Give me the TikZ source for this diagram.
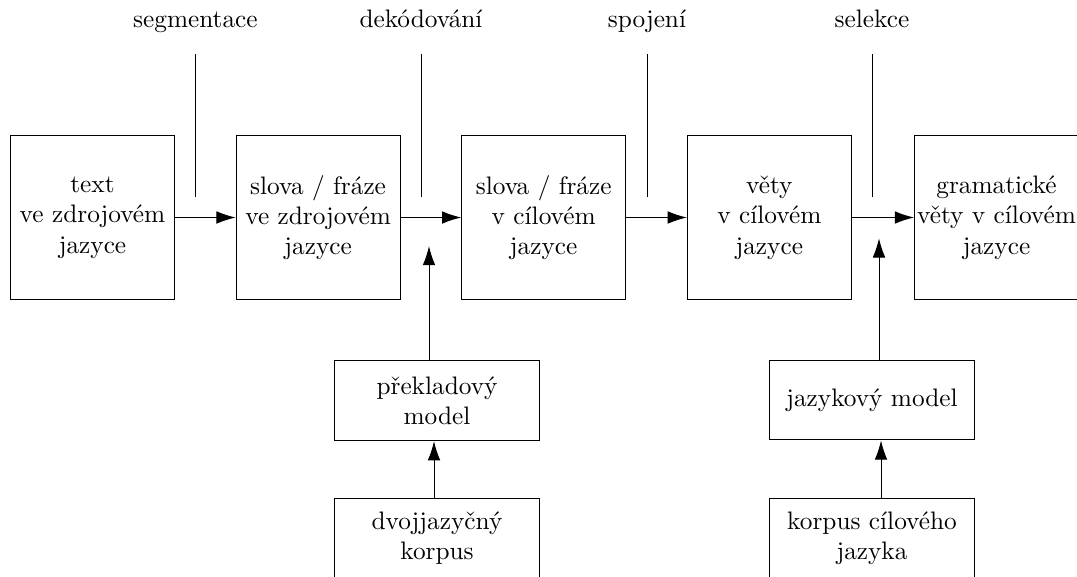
\documentclass[tikz,border=0pt]{standalone}
\usepackage{fontspec}
\usetikzlibrary{arrows.meta}
\begin{document}
\begin{tikzpicture}[x=0.3953pt, y=-0.3953pt,
  stage/.style={draw, minimum width=64.8pt, minimum height=64.8pt, inner sep=0pt, align=center},
  source/.style={draw, minimum width=81.4pt, minimum height=31.6pt, inner sep=0pt, align=center},
  steplabel/.style={anchor=base, inner sep=0pt},
  arr/.style={-{Latex[length=7.6pt, width=5pt]}}
]
\useasboundingbox (0,0) rectangle (1077,576);

% main pipeline
\node[stage] (b1) at (92.5,217.5)  {text\\ve zdrojovém\\jazyce};
\node[stage] (b2) at (318.1,217.5) {slova / fráze\\ve zdrojovém\\jazyce};
\node[stage] (b3) at (543.7,217.5) {slova / fráze\\v cílovém\\jazyce};
\node[stage] (b4) at (769.3,217.5) {věty\\v cílovém\\jazyce};
\node[stage] (b5) at (996.5,217.5) {gramatické\\věty v cílovém\\jazyce};

\draw[arr] (b1) -- (b2);
\draw[arr] (b2) -- (b3);
\draw[arr] (b3) -- (b4);
\draw[arr] (b4) -- (b5);

% step labels with their marker lines
\node[steplabel] (l1) at (195.4,27) {segmentace};
\node[steplabel] (l2) at (421,27) {dekódování};
\node[steplabel] (l3) at (647,27) {spojení};
\node[steplabel] (l4) at (872,27) {selekce};
\foreach \i/\x in {1/195.4, 2/421, 3/647, 4/872} {
  \coordinate (t\i) at (\x,54);
  \coordinate (e\i) at (\x,196.7);
  \draw (t\i) -- (e\i);
}

% models and corpora
\node[source] (pm) at (437,400.7) {překladový\\model};
\node[source] (dk) at (437,538)   {dvojjazyčný\\korpus};
\node[source] (jm) at (872,400)   {jazykový model};
\node[source] (kc) at (872,538)   {korpus cílového\\jazyka};

\coordinate (a1) at (429,246);
\coordinate (a2) at (879,238.3);
\draw[arr] (a1 |- pm.north) -- (a1);
\draw[arr] (a2 |- jm.north) -- (a2);

\coordinate (d1) at (434,0);
\coordinate (d2) at (881,0);
\draw[arr] (d1 |- dk.north) -- (d1 |- pm.south);
\draw[arr] (d2 |- kc.north) -- (d2 |- jm.south);
\end{tikzpicture}
\end{document}
